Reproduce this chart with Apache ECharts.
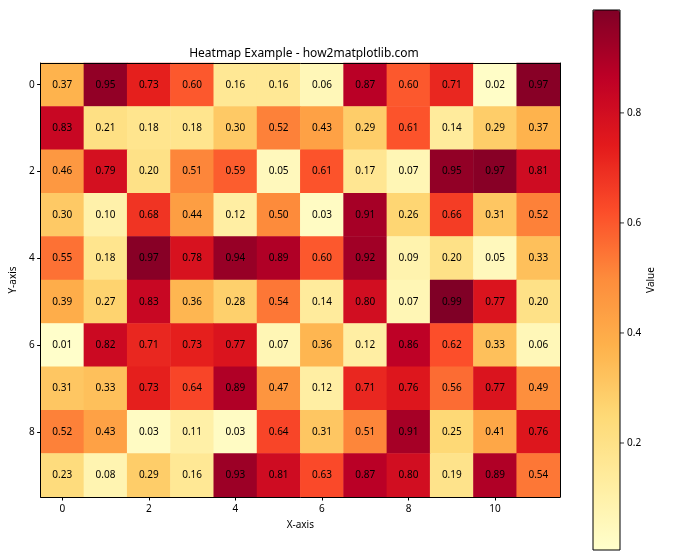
<!DOCTYPE html>
<html><head><meta charset="utf-8">
<script src="https://cdn.jsdelivr.net/npm/echarts@6/dist/echarts.min.js"></script>
<style>html,body{margin:0;padding:0;background:#fff}#c{width:700px;height:560px}</style>
</head><body><div id="c"></div>
<script>
const xCats = ['0','1','2','3','4','5','6','7','8','9','10','11'];
const yCats = ['0','1','2','3','4','5','6','7','8','9'];
const row0 = [0.37,0.95,0.73,0.60,0.16,0.16,0.06,0.87,0.60,0.71,0.02,0.97];
const row1 = [0.83,0.21,0.18,0.18,0.30,0.52,0.43,0.29,0.61,0.14,0.29,0.37];
const row2 = [0.46,0.79,0.20,0.51,0.59,0.05,0.61,0.17,0.07,0.95,0.97,0.81];
const row3 = [0.30,0.10,0.68,0.44,0.12,0.50,0.03,0.91,0.26,0.66,0.31,0.52];
const row4 = [0.55,0.18,0.97,0.78,0.94,0.89,0.60,0.92,0.09,0.20,0.05,0.33];
const row5 = [0.39,0.27,0.83,0.36,0.28,0.54,0.14,0.80,0.07,0.99,0.77,0.20];
const row6 = [0.01,0.82,0.71,0.73,0.77,0.07,0.36,0.12,0.86,0.62,0.33,0.06];
const row7 = [0.31,0.33,0.73,0.64,0.89,0.47,0.12,0.71,0.76,0.56,0.77,0.49];
const row8 = [0.52,0.43,0.03,0.11,0.03,0.64,0.31,0.51,0.91,0.25,0.41,0.76];
const row9 = [0.23,0.08,0.29,0.16,0.93,0.81,0.63,0.87,0.80,0.19,0.89,0.54];
const rows = [row0,row1,row2,row3,row4,row5,row6,row7,row8,row9];
const colorbarTicks = [0.2,0.4,0.6,0.8];
const cMin = 0.0055, cMax = 0.987;
const ylorrd = ['#ffffcc','#ffeda0','#fed976','#feb24c','#fd8d3c','#fc4e2a','#e31a1c','#bd0026','#800026'];

const data = [];
rows.forEach((r, yi) => r.forEach((v, xi) => data.push([xi, yi, v])));

const FONT = 'Noto Sans';
const chart = echarts.init(document.getElementById('c'), null, {renderer: 'canvas'});
chart.setOption({
  animation: false,
  textStyle: {fontFamily: FONT},
  title: {
    text: 'Heatmap Example - how2matplotlib.com',
    left: 299, top: 43, textAlign: 'center',
    textStyle: {fontFamily: FONT, fontSize: 12, fontWeight: 'normal', color: '#000'}
  },
  grid: [
    {left: 38, top: 63, width: 522, height: 434, containLabel: false},
    {left: 593, top: 10, width: 27, height: 540, show: true, borderColor: '#000', borderWidth: 1, backgroundColor: 'transparent', z: 5}
  ],
  xAxis: [
    {type: 'category', gridIndex: 0, data: xCats, position: 'bottom', z: 10,
     name: 'X-axis', nameLocation: 'middle', nameGap: 23,
     nameTextStyle: {fontFamily: FONT, fontSize: 10, color: '#000'},
     axisLine: {show: true, lineStyle: {color: '#000', width: 1}},
     axisTick: {show: true, alignWithLabel: true, interval: 1, length: 3.5, lineStyle: {color: '#000'}},
     axisLabel: {interval: 1, fontFamily: FONT, fontSize: 10, color: '#000', margin: 7},
     splitLine: {show: false}},
    {type: 'category', gridIndex: 0, data: xCats, position: 'top', z: 10,
     axisLine: {show: true, lineStyle: {color: '#000', width: 1}},
     axisTick: {show: false}, axisLabel: {show: false}, splitLine: {show: false}},
    {type: 'value', gridIndex: 1, show: false, min: 0, max: 1}
  ],
  yAxis: [
    {type: 'category', gridIndex: 0, data: yCats, inverse: true, position: 'left', z: 10,
     name: 'Y-axis', nameLocation: 'middle', nameGap: 21, nameRotate: 90,
     nameTextStyle: {fontFamily: FONT, fontSize: 10, color: '#000'},
     axisLine: {show: true, lineStyle: {color: '#000', width: 1}},
     axisTick: {show: true, alignWithLabel: true, interval: 1, length: 3.5, lineStyle: {color: '#000'}},
     axisLabel: {interval: 1, fontFamily: FONT, fontSize: 10, color: '#000', margin: 6},
     splitLine: {show: false}},
    {type: 'category', gridIndex: 0, data: yCats, inverse: true, position: 'right', z: 10,
     axisLine: {show: true, lineStyle: {color: '#000', width: 1}},
     axisTick: {show: false}, axisLabel: {show: false}, splitLine: {show: false}},
    {type: 'value', gridIndex: 1, position: 'right', min: cMin, max: cMax, z: 10,
     name: 'Value', nameLocation: 'middle', nameGap: 26, nameRotate: 90,
     nameTextStyle: {fontFamily: FONT, fontSize: 10, color: '#000'},
     axisLine: {show: false},
     axisTick: {show: false},
     axisLabel: {fontFamily: FONT, fontSize: 10, color: '#000', margin: 7, customValues: colorbarTicks,
       formatter: v => v.toFixed(1)},
     splitLine: {show: false}}
  ],
  visualMap: {
    type: 'continuous', min: cMin, max: cMax, seriesIndex: 0,
    orient: 'vertical', left: 593, top: 10, itemWidth: 27, itemHeight: 540,
    padding: 0, calculable: false, text: null, showLabel: false, hoverLink: false,
    inRange: {color: ylorrd}
  },
  series: [{
    type: 'heatmap', xAxisIndex: 0, yAxisIndex: 0, data: data,
    itemStyle: {borderWidth: 0},
    emphasis: {disabled: true},
    label: {show: true, fontFamily: FONT, fontSize: 10, color: '#000',
      formatter: p => p.value[2].toFixed(2)}
  }, {
    type: 'scatter', xAxisIndex: 2, yAxisIndex: 2, silent: true, z: 10,
    data: colorbarTicks.map(v => [1, v]),
    symbol: 'rect', symbolSize: [4, 1], symbolOffset: [2, 0],
    itemStyle: {color: '#000'}
  }]
});
</script></body></html>
